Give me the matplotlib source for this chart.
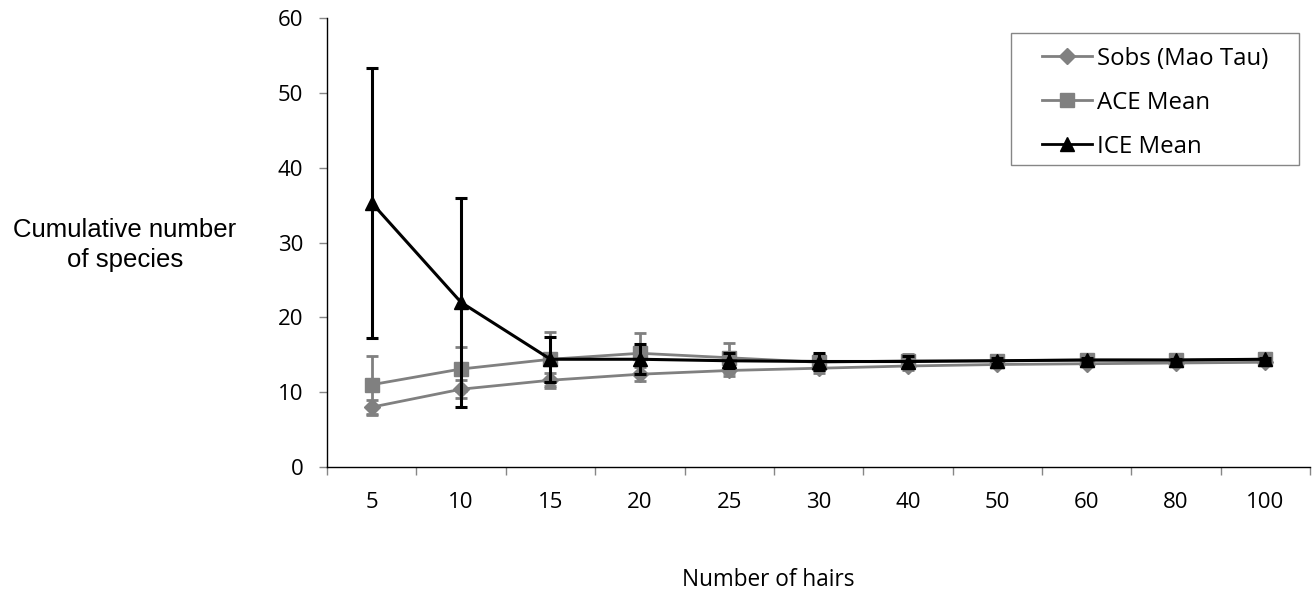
import matplotlib
matplotlib.use("Agg")
import matplotlib.pyplot as plt
from matplotlib.lines import Line2D
from matplotlib.patches import Rectangle
import numpy as np

categories = ["5", "10", "15", "20", "25", "30", "40", "50", "60", "80", "100"]
sobs = [8.0, 10.4, 11.6, 12.4, 12.9, 13.2, 13.5, 13.7, 13.8, 13.9, 14.0]
sobs_err = [1.0, 1.2, 1.0, 0.9, 0.7, 0.6, 0.5, 0.4, 0.3, 0.3, 0.2]
ace = [11.0, 13.1, 14.4, 15.2, 14.6, 14.0, 14.2, 14.2, 14.3, 14.3, 14.4]
ace_err = [3.9, 3.0, 3.6, 2.7, 2.0, 1.0, 0.9, 0.5, 0.4, 0.3, 0.2]
ice = [35.3, 22.0, 14.4, 14.4, 14.2, 14.1, 14.1, 14.2, 14.3, 14.3, 14.4]
ice_err = [18.0, 14.0, 3.0, 2.0, 1.0, 1.2, 0.7, 0.4, 0.3, 0.2, 0.2]
yticks = [0, 10, 20, 30, 40, 50, 60]
labels = ["Sobs (Mao Tau)", "ACE Mean", "ICE Mean"]

fig = plt.figure(figsize=(13.14, 5.95), dpi=100)
ax = fig.add_axes([0.2489, 0.2151, 0.7481, 0.7546])
x = np.arange(len(categories))
grey = "#808080"

styles = [
    dict(color=grey, marker="D", markersize=8.5, lw=2),
    dict(color=grey, marker="s", markersize=10, lw=2),
    dict(color="black", marker="^", markersize=10, lw=2.2),
]
series = [(sobs, sobs_err), (ace, ace_err), (ice, ice_err)]
for i, ((vals, errs), st) in enumerate(zip(series, styles)):
    ax.errorbar(x, vals, yerr=errs, elinewidth=2.2 if i == 2 else 2,
                capsize=4.5, capthick=2.2 if i == 2 else 2, zorder=3 + i, **st)

ax.set_xlim(-0.5, len(categories) - 0.5)
ax.set_ylim(0, 60)
ax.set_yticks(yticks)
ax.set_yticklabels([str(t) for t in yticks], family="Open Sans", fontsize=16)
ax.set_xticks(x)
ax.set_xticklabels(categories, family="Open Sans", fontsize=16)
ax.set_xticks(np.arange(len(categories) + 1) - 0.5, minor=True)
ax.tick_params(axis="x", which="major", length=0, pad=18)
ax.tick_params(axis="x", which="minor", length=6, width=1, color="#868686")
ax.tick_params(axis="y", length=6, width=1, color="#868686", pad=11)
ax.spines["top"].set_visible(False)
ax.spines["right"].set_visible(False)
for s in ("left", "bottom"):
    ax.spines[s].set_color("black")
    ax.spines[s].set_linewidth(1)

fig.text(0.095, 0.588, "Cumulative number\nof species", ha="center", va="center",
         family="Liberation Sans", fontsize=18.5, linespacing=1.3)
fig.text(0.585, 0.025, "Number of hairs", ha="center", va="center",
         family="Open Sans", fontsize=16.3)

# legend frame
ax.add_patch(Rectangle((0.6958, 0.6726), 0.9888 - 0.6958, 0.9666 - 0.6726,
                       transform=ax.transAxes, facecolor="white", edgecolor="#868686",
                       lw=1, zorder=10, clip_on=False))
handles = [Line2D([], [], **{**st, "lw": 2}) for st in styles]
leg = ax.legend(handles, labels, loc="upper left", bbox_to_anchor=(0.7274, 0.936),
                prop={"family": "Open Sans", "size": 17.3},
                frameon=False, labelspacing=0.83,
                handlelength=2.08, borderpad=0, borderaxespad=0, handletextpad=0.2)
leg.set_zorder(11)

fig.savefig("out.png", dpi=100)
